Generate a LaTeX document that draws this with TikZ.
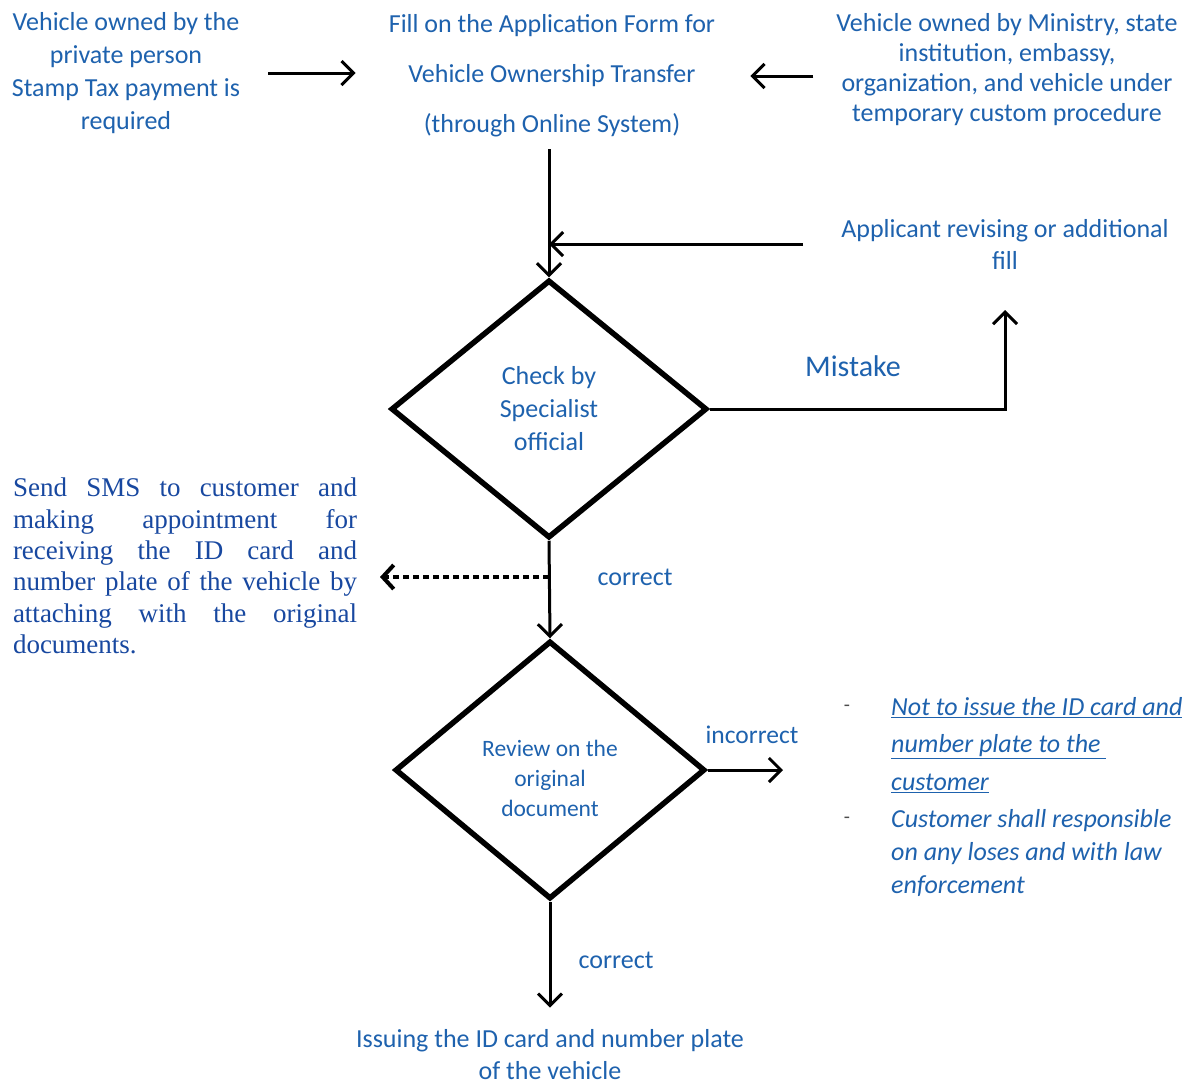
\documentclass[tikz,border=0pt]{standalone}
\usepackage{fontspec}
\setmainfont{Carlito}
\newfontfamily\serifblock{Liberation Serif}
\usetikzlibrary{arrows.meta,shapes.geometric}
\definecolor{txtblue}{RGB}{30,98,174}
\definecolor{smsblue}{RGB}{24,72,160}
\tikzset{
  lbl/.style={text=txtblue, inner sep=0pt, align=center},
  decision/.style={shape=diamond, draw=black, line width=5.5pt, inner sep=0pt},
  chev/.tip={Straight Barb[length=12pt,width=24pt]},
  conn/.style={draw=black, line width=3pt, -chev},
  dotconn/.style={draw=black, line width=4.5pt, dash pattern=on 6pt off 4pt,
    -{Straight Barb[length=11pt,width=24pt,line width=4pt]}},
}
\newcommand{\fs}[2]{\fontsize{#1}{#2}\selectfont}
\begin{document}
\begin{tikzpicture}[x=1pt,y=-1pt]
  \useasboundingbox (0,0) rectangle (1194,1085);
  \fill[white] (0,0) rectangle (1194,1085);

  % top row of sources
  \node[lbl, font=\fs{26}{33}] (priv) at (126,73)
    {Vehicle owned by the\\private person\\Stamp Tax payment is\\required};
  \node[lbl, font=\fs{26}{50}] (fill) at (552,76)
    {Fill on the Application Form for\\Vehicle Ownership Transfer\\(through Online System)};
  \node[lbl, font=\fs{26}{30}] (minis) at (1007,70)
    {Vehicle owned by Ministry, state\\institution, embassy,\\organization, and vehicle under\\temporary custom procedure};

  \draw[conn, shorten <=28pt, shorten >=33pt] (priv.east) -- (priv.east -| fill.west);
  \draw[conn, shorten <=23pt, shorten >=35pt] (minis.west |- fill) -- (fill.east);

  % first check
  \node[decision, minimum width=316pt, minimum height=258pt] (d1) at (549,409) {};
  \node[lbl, font=\fs{26}{33}] (d1txt) at (d1.center) {Check by\\Specialist\\official};

  \draw[conn, shorten <=12pt] (d1.north |- fill.south) -- (d1.north);

  \node[lbl, font=\fs{26}{32}] (appl) at (1005,244)
    {Applicant revising or additional\\fill};
  \coordinate (j1) at (d1.north |- appl.center);
  \draw[conn, shorten <=38pt] (appl.west) -- (j1);

  \coordinate (mk) at (1005,310);
  \draw[conn] (d1.east) -| (mk);
  \node[lbl, font=\fs{30}{34}] (mistake) at (853,366) {Mistake};

  % second check
  \node[decision, minimum width=310pt, minimum height=258pt] (d2) at (550,770) {};
  \node[lbl, font=\fs{23.5}{30}] (d2txt) at (550,778) {Review on the\\original\\document};
  \draw[conn] (d1.south) -- (d2.north);

  % notification branch
  \node[text=smsblue, inner sep=0pt, text width=344pt, align=justify,
        font=\serifblock\fs{27}{31.4}] (sms) at (185,566)
    {Send SMS to customer and\linebreak
     making appointment for\linebreak
     receiving the ID card and\linebreak
     number plate of the vehicle by\linebreak
     attaching with the original\linebreak
     documents.};
  \coordinate (j2) at (d1.south |- 0,577);
  \coordinate (smsin) at (380,577);
  \draw[dotconn] (j2) -- (smsin);
  \node[lbl, font=\fs{26}{30}] (ok1) at (635,577) {correct};

  % rejection branch
  \coordinate (inc) at (783,770);
  \draw[conn] (d2.east) -- (inc);
  \node[lbl, font=\fs{25.5}{30}] (incorrect) at (752,735) {incorrect};
  \node[inner sep=0pt, font=\fs{20}{24}, text=black!70] (dash1) at (847,708) {-};
  \node[inner sep=0pt, font=\fs{20}{24}, text=black!70] (dash2) at (847,820) {-};
  \node[lbl, align=left, anchor=west, font=\itshape\fs{26}{37.5}] (item1) at (891,745)
    {\underline{Not to issue the ID card and}\\\underline{number plate to the\ }\\\underline{customer}};
  \node[lbl, align=left, anchor=west, font=\itshape\fs{26}{33}] (item2) at (891,853)
    {Customer shall responsible\\on any loses and with law\\enforcement};

  % final step
  \node[lbl, font=\fs{26}{32}] (issue) at (550,1055)
    {Issuing the ID card and number plate\\of the vehicle};
  \draw[conn, shorten >=22pt] (d2.south) -- (issue.north);
  \node[lbl, font=\fs{26}{30}] (ok2) at (616,960) {correct};
\end{tikzpicture}
\end{document}
